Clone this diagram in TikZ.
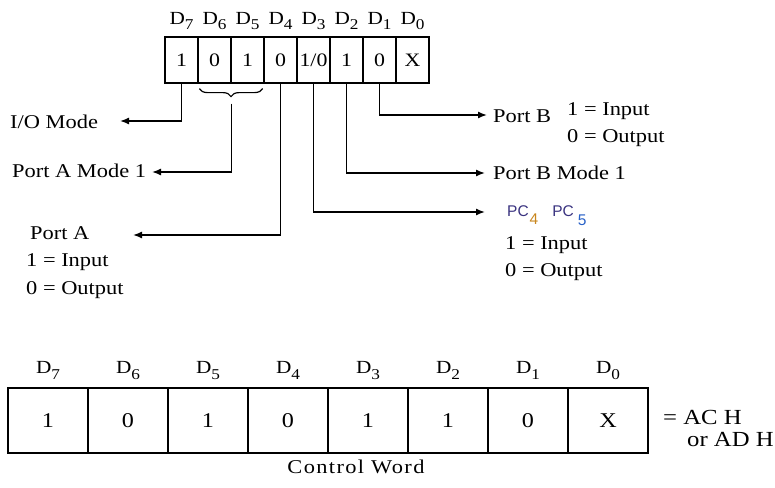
\documentclass[tikz,border=0pt]{standalone}
\usepackage{fontspec}
\setmainfont{Liberation Serif}[FakeStretch=1.15]
\newfontfamily\pcfont{Liberation Sans}
\usetikzlibrary{positioning,arrows.meta,decorations.pathreplacing,calc}
\definecolor{pcnavy}{HTML}{3A3380}
\definecolor{suborange}{HTML}{C8861E}
\definecolor{subblue}{HTML}{2A62C8}
\newcommand{\dsub}[2]{D\raisebox{-#2}{\fontsize{15}{15}\selectfont #1}}
\tikzset{
  bit/.style   ={draw, line width=1.2pt, minimum width=33pt, minimum height=46pt, inner sep=0pt, font=\fontsize{19}{22}\selectfont},
  bigbit/.style={draw, line width=1.2pt, minimum width=80pt, minimum height=65pt, inner sep=0pt, font=\fontsize{21}{24}\selectfont},
  dlab/.style  ={anchor=base, inner sep=0pt, font=\fontsize{18.5}{20}\selectfont},
  txt/.style   ={anchor=west, inner sep=0pt, font=\fontsize{19.5}{22}\selectfont},
  wire/.style  ={-{Latex[length=9pt,width=7pt]}, line width=1.4pt},
  brc/.style   ={decorate, decoration={brace, mirror, amplitude=8pt}, line width=1.2pt},
}

\begin{document}
\begin{tikzpicture}[x=1pt, y=-1pt]
  \useasboundingbox (0,0) rectangle (775,487);

  % mode set word, top
  \foreach \v [count=\i from 0] in {1,0,1,0,{1/0},1,0,X}
    \node[bit] (t\i) at (181.5+33*\i,60) {\v};
  \foreach \d [count=\i from 0] in {7,6,5,4,3,2,1,0}
    \node[dlab] (td\i) at (181.5+33*\i,25) {\dsub{\d}{5pt}};

  \draw[brc] ([xshift=2pt,yshift=-5pt]t1.south west) -- ([xshift=-2pt,yshift=-5pt]t2.south east);
  \coordinate (brtip) at ($(t1.south east)+(0,20)$);

  % arrow ends
  \coordinate (iotip)  at (120,121);
  \coordinate (pamtip) at (152,172);
  \coordinate (patip)  at (133,235);
  \coordinate (pbtip)  at (487,115);
  \coordinate (pbmtip) at (485,173);
  \coordinate (pctip)  at (485,212);

  \draw[wire] (t0.south) |- (iotip);
  \draw[wire] (brtip) |- (pamtip);
  \draw[wire] (t3.south) |- (patip);
  \draw[wire] (t4.south) |- (pctip);
  \draw[wire] (t5.south) |- (pbmtip);
  \draw[wire] (t6.south) |- (pbtip);

  % left side
  \node[txt] (iom)   at (10,122)  {I/O Mode};
  \node[txt] (pam)   at (12,171)  {Port A Mode 1};
  \node[txt] (pa)    at (30,233)  {Port A};
  \node[txt] (pain)  at (26,262)  {1 = Input};
  \node[txt] (paout) at (26,290)  {0 = Output};

  % right side
  \node[txt] (pb)    at (493,116) {Port B};
  \node[txt] (pbin)  at (567,111) {1 = Input};
  \node[txt] (pbout) at (567,138) {0 = Output};
  \node[txt] (pbm)   at (493,173) {Port B Mode 1};
  \node[txt, font=\pcfont\fontsize{15.5}{17}\selectfont, text=pcnavy] (pc) at (507,216)
    {PC\hspace{1pt}\raisebox{-8pt}{\textcolor{suborange}{4}}\hspace{14pt}PC\hspace{4pt}\raisebox{-9pt}{\textcolor{subblue}{5}}};
  \node[txt] (pcin)  at (505,245) {1 = Input};
  \node[txt] (pcout) at (505,272) {0 = Output};

  % control word, bottom
  \foreach \v [count=\i from 0] in {1,0,1,0,1,1,0,X}
    \node[bigbit] (b\i) at (48+80*\i,420.5) {\v};
  \foreach \d [count=\i from 0] in {7,6,5,4,3,2,1,0}
    \node[dlab] (bd\i) at (48+80*\i,373) {\dsub{\d}{6pt}};

  \node[txt, font=\fontsize{21.5}{24}\selectfont] (ach)  at (663,417) {= AC H};
  \node[txt, font=\fontsize{21.5}{24}\selectfont] (adh)  at (687,440) {or AD H};
  \node[txt, anchor=center] (cw) at (356,467) {\addfontfeature{LetterSpace=7}Control Word};
\end{tikzpicture}
\end{document}
